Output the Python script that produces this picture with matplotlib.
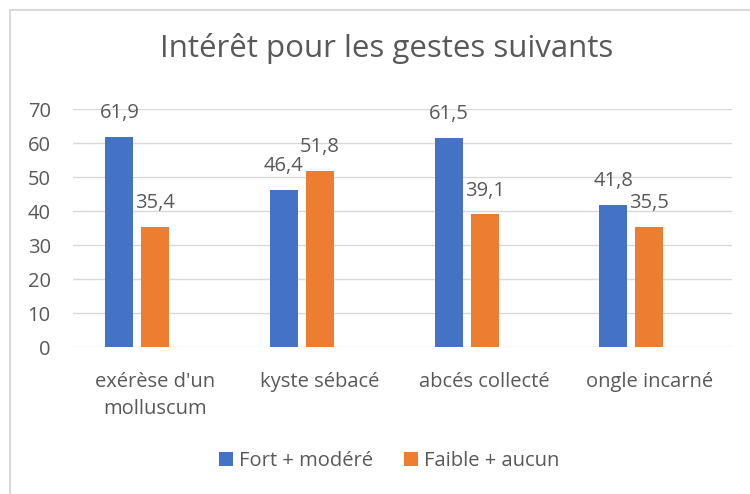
import numpy as np
import matplotlib
matplotlib.use("Agg")
import matplotlib.pyplot as plt
from matplotlib.lines import Line2D

plt.rcParams['font.family'] = ['Open Sans', 'DejaVu Sans']

# data
categories = ["exérèse d'un\nmolluscum", "kyste sébacé", "abcés collecté", "ongle incarné"]
fort_modere = [61.9, 46.4, 61.5, 41.8]
faible_aucun = [35.4, 51.8, 39.1, 35.5]
series_names = ["Fort + modéré", "Faible + aucun"]
title = "Intérêt pour les gestes suivants"

BLUE = '#4472C4'
ORANGE = '#ED7D31'
TXT = '#595959'
GRID = '#D9D9D9'
FS = 14.5

fig = plt.figure(figsize=(7.5, 4.94), dpi=100)
# chart border (only top and left edges are visible in the crop)
bx, by = 10 / 750, 1 - 10 / 494
fig.lines.append(Line2D([bx, bx, 1.0], [0.0, by, by], transform=fig.transFigure,
                        color='#D9D9D9', lw=1.5))

ax = fig.add_axes([0.0973, 0.297, 0.8783, 0.4817])

x = np.arange(len(categories))
w = 0.17
off = 0.2186
b1 = ax.bar(x - off, fort_modere, w, color=BLUE, label=series_names[0], zorder=3)
b2 = ax.bar(x, faible_aucun, w, color=ORANGE, label=series_names[1], zorder=3)

for bars, vals in ((b1, fort_modere), (b2, faible_aucun)):
    for r, v in zip(bars, vals):
        ax.annotate(f"{v:.1f}".replace('.', ','), (r.get_x() + r.get_width() / 2, v),
                    xytext=(0, 13.5), textcoords='offset points', ha='center', va='baseline',
                    fontsize=FS, color=TXT)

ax.set_xlim(-0.5, len(categories) - 0.5)
ax.set_ylim(0, 70)
ax.set_yticks(range(0, 71, 10))
ax.set_xticks(x)
ax.set_xticklabels(categories, fontsize=FS, color=TXT, linespacing=1.45)
ax.tick_params(axis='y', length=0, pad=16, labelsize=FS, labelcolor=TXT)
ax.tick_params(axis='x', length=0, pad=18)
ax.grid(axis='y', color=GRID, lw=1.0, zorder=0)
for s in ax.spines.values():
    s.set_visible(False)

fig.text(0.515, 0.8846, title, ha='center', va='baseline', fontsize=22.5, color=TXT)

fig.legend(loc='center', bbox_to_anchor=(0.519, 0.0674), ncol=2, frameon=False,
           fontsize=FS, labelcolor=TXT, handlelength=0.7, handleheight=0.7,
           handletextpad=0.3, columnspacing=1.55)

fig.savefig('out.png', dpi=100)
